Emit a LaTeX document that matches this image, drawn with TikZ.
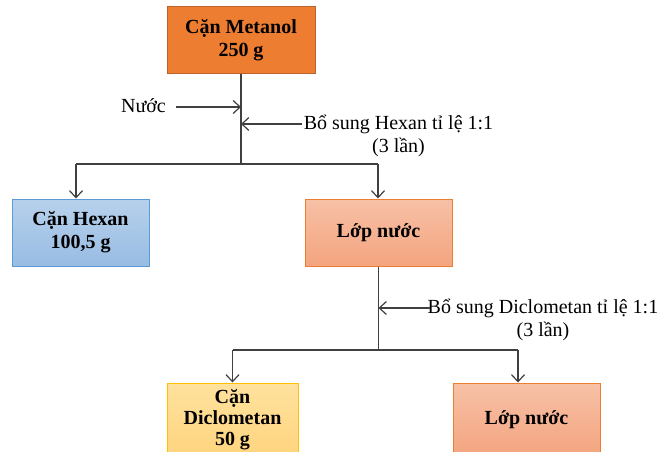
\documentclass[tikz,border=0pt]{standalone}
\usepackage{fontspec}
\setmainfont{Liberation Serif}
\usetikzlibrary{arrows.meta}
\definecolor{orgfill}{HTML}{ED7D31}
\definecolor{orgdraw}{HTML}{B9622A}
\definecolor{bluetop}{HTML}{B7D1EC}
\definecolor{bluebot}{HTML}{98BCE3}
\definecolor{bluedraw}{HTML}{5B9BD5}
\definecolor{salmtop}{HTML}{F7C1A6}
\definecolor{salmbot}{HTML}{F4A47F}
\definecolor{salmdraw}{HTML}{ED7D31}
\definecolor{yeltop}{HTML}{FFE29E}
\definecolor{yelbot}{HTML}{FFD47E}
\definecolor{yeldraw}{HTML}{FFC000}
\definecolor{linec}{HTML}{404040}
\tikzset{
  boxbase/.style={rectangle, align=center, inner sep=2pt, line width=1pt,
    font=\fontsize{20}{23}\selectfont\bfseries},
  orgbox/.style={boxbase, fill=orgfill, draw=orgdraw},
  bluebox/.style={boxbase, top color=bluetop, bottom color=bluebot, draw=bluedraw},
  salmbox/.style={boxbase, top color=salmtop, bottom color=salmbot, draw=salmdraw},
  yelbox/.style={boxbase, top color=yeltop, bottom color=yelbot, draw=yeldraw},
  lbl/.style={inner sep=0pt, align=center, font=\fontsize{20}{23.5}\selectfont},
  conn/.style={draw=linec, line width=1.3pt},
  arr/.style={conn, -{Straight Barb[length=7pt,width=13pt,line width=1.2pt]}},
}
\begin{document}
\begin{tikzpicture}[x=1pt,y=-1pt]
\useasboundingbox[fill=white] (0,0) rectangle (657,452);
% boxes
\node[orgbox, minimum width=148pt, minimum height=67pt] (top) at (241,40) {Cặn Metanol\\250 g};
\node[bluebox, minimum width=137pt, minimum height=67pt] (hex) at (80.5,232.5) {Cặn Hexan\\100,5 g};
\node[salmbox, minimum width=147pt, minimum height=67pt] (lop1) at (378.5,232.5) {Lớp nước};
\node[yelbox, minimum width=131pt, minimum height=74pt] (dcm) at (232.5,420) {Cặn\\[-2pt]Diclometan\\[-2pt]50 g};
\node[salmbox, minimum width=147pt, minimum height=74pt] (lop2) at (526.5,420) {Lớp nước};
% labels
\node[lbl, anchor=east] (nuoc) at (166,106) {Nước};
\node[lbl] (hexlab) at (398.5,136) {Bổ sung Hexan tỉ lệ 1:1\\(3 lần)};
\node[lbl] (dcmlab) at (543,320) {Bổ sung Diclometan tỉ lệ 1:1\\(3 lần)};
% junctions
\coordinate (w1) at (241,107);
\coordinate (h1) at (241,124);
\coordinate (b1) at (241,164);
\coordinate (b1l) at (76,164);
\coordinate (b1r) at (378,164);
\coordinate (d2) at (378.5,308);
\coordinate (b2) at (378.5,350);
\coordinate (b2l) at (232.5,350);
\coordinate (b2r) at (518,350);
% connectors
\draw[conn] (top.south) -- (b1);
\draw[arr] ([xshift=10pt]nuoc.east |- w1) -- (w1);
\draw[arr] ([xshift=-2pt]hexlab.west |- h1) -- (h1);
\draw[conn] (b1l) -- (b1r);
\draw[arr] (b1l) -- (b1l |- hex.north);
\draw[arr] (b1r) -- (b1r |- lop1.north);
\draw[conn] (lop1.south) -- (b2);
\draw[arr] ([xshift=2pt]dcmlab.west |- d2) -- (d2);
\draw[conn] (b2l) -- (b2r);
\draw[arr] (b2l) -- (dcm.north);
\draw[arr] (b2r) -- (b2r |- lop2.north);
\end{tikzpicture}
\end{document}
